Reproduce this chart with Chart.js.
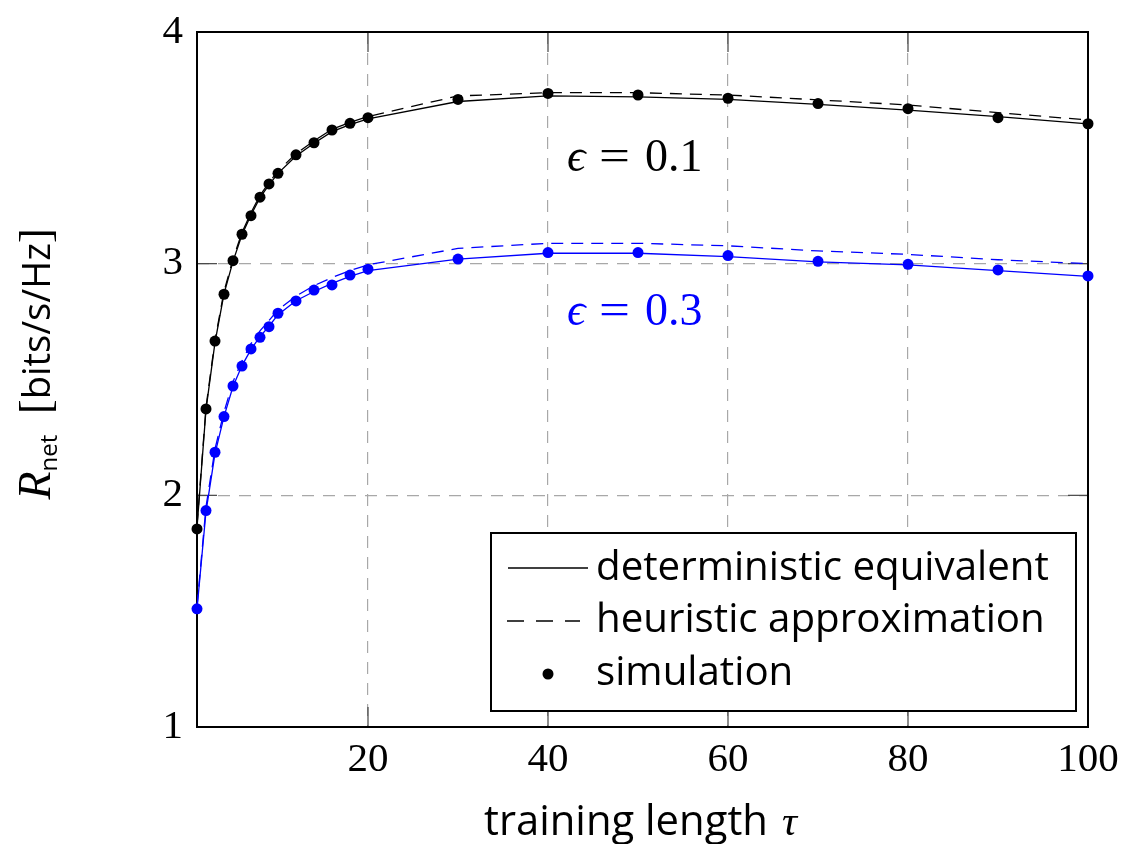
<!DOCTYPE html>
<html>
<head>
<meta charset="utf-8">
<script src="https://cdn.jsdelivr.net/npm/chart.js@4.4.1/dist/chart.umd.min.js"></script>
<style>
  html, body { margin: 0; padding: 0; background: #fff; }
  #c { display: block; }
</style>
</head>
<body>
<canvas id="c" width="1125" height="844"></canvas>
<script>
// training length tau
var tau = [1, 2, 3, 4, 5, 6, 7, 8, 9, 10, 12, 14, 16, 18, 20, 30, 40, 50, 60, 70, 80, 90, 100];

// eps = 0.1
var detEps1  = [1.86, 2.37, 2.66, 2.87, 3.01, 3.125, 3.21, 3.285, 3.34, 3.39, 3.465, 3.52, 3.57, 3.60, 3.625, 3.70, 3.724, 3.72, 3.709, 3.688, 3.663, 3.635, 3.603];
var heurEps1 = [1.87, 2.38, 2.67, 2.88, 3.02, 3.135, 3.22, 3.295, 3.35, 3.40, 3.475, 3.53, 3.58, 3.61, 3.635, 3.724, 3.738, 3.738, 3.728, 3.707, 3.685, 3.652, 3.62];
var simEps1  = [1.855, 2.373, 2.666, 2.868, 3.013, 3.127, 3.207, 3.287, 3.344, 3.39, 3.47, 3.522, 3.577, 3.606, 3.63, 3.709, 3.735, 3.728, 3.714, 3.691, 3.669, 3.63, 3.604];

// eps = 0.3
var detEps3  = [1.51, 1.93, 2.18, 2.34, 2.47, 2.56, 2.63, 2.685, 2.73, 2.78, 2.84, 2.88, 2.915, 2.945, 2.97, 3.02, 3.045, 3.045, 3.03, 3.008, 2.995, 2.97, 2.945];
var heurEps3 = [1.52, 1.95, 2.20, 2.36, 2.49, 2.58, 2.655, 2.71, 2.755, 2.80, 2.86, 2.905, 2.94, 2.97, 2.995, 3.066, 3.088, 3.088, 3.077, 3.055, 3.04, 3.017, 3.0];
var simEps3  = [1.51, 1.934, 2.186, 2.34, 2.472, 2.558, 2.632, 2.682, 2.728, 2.786, 2.839, 2.886, 2.908, 2.951, 2.976, 3.02, 3.048, 3.048, 3.035, 3.01, 2.997, 2.973, 2.947];

var xTicks = [20, 40, 60, 80, 100];
var yTicks = [1, 2, 3, 4];
var legendLabels = ['deterministic equivalent', 'heuristic approximation', 'simulation'];

var BLUE = '#0000ff';
var SERIF = '"Liberation Serif", "DejaVu Serif", serif';
var SANS = '"Open Sans", "DejaVu Sans", sans-serif';

function pts(ys) {
  return tau.map(function(t, i) { return {x: t, y: ys[i]}; });
}

function lineSet(ys, color, dashed) {
  return {
    data: pts(ys), borderColor: color, borderWidth: 1.3,
    borderDash: dashed ? [12, 8] : [], pointRadius: 0, tension: 0, clip: false
  };
}

function dotSet(ys, color) {
  return {
    data: pts(ys), showLine: false, pointRadius: 5.5, pointBackgroundColor: color,
    pointBorderColor: color, pointBorderWidth: 0, clip: false
  };
}

// font size that makes text span the given width
function fitSize(ctx, family, style, text, width) {
  ctx.font = style + ' 100px ' + family;
  return 100 * width / ctx.measureText(text).width;
}

function seg(ctx, x1, y1, x2, y2) {
  ctx.beginPath(); ctx.moveTo(x1, y1); ctx.lineTo(x2, y2); ctx.stroke();
}

// frame and inward tick marks
var framePlugin = {
  id: 'frame',
  beforeDatasetsDraw: function(chart) {
    var ctx = chart.ctx, a = chart.chartArea, sx = chart.scales.x, sy = chart.scales.y;
    ctx.save();
    ctx.strokeStyle = '#444';
    ctx.lineWidth = 1.2;
    xTicks.forEach(function(v) {
      var px = sx.getPixelForValue(v);
      seg(ctx, px, a.bottom, px, a.bottom - 20);
      seg(ctx, px, a.top, px, a.top + 20);
    });
    yTicks.forEach(function(v) {
      var py = sy.getPixelForValue(v);
      seg(ctx, a.left, py, a.left + 20, py);
      seg(ctx, a.right, py, a.right - 20, py);
    });
    ctx.strokeStyle = '#000';
    ctx.lineWidth = 2;
    ctx.strokeRect(a.left, a.top, a.width, a.height);
    ctx.restore();
  }
};

// axis titles, curve labels and legend
var textPlugin = {
  id: 'texts',
  afterDraw: function(chart) {
    var ctx = chart.ctx, a = chart.chartArea, sx = chart.scales.x, sy = chart.scales.y;
    ctx.save();
    ctx.textBaseline = 'alphabetic';
    ctx.textAlign = 'left';

    // curve labels: epsilon, equals sign, value
    [['0.1', 3.4, '#000'], ['0.3', 2.735, BLUE]].forEach(function(l) {
      var x0 = sx.getPixelForValue(42.1), y0 = sy.getPixelForValue(l[1]);
      ctx.fillStyle = l[2];
      ctx.font = 'italic 46px ' + SERIF;
      ctx.fillText('\u03f5', x0, y0);
      var eq = fitSize(ctx, SERIF, '', '=', 31);
      ctx.font = eq + 'px ' + SERIF;
      ctx.save();
      ctx.translate(x0 + 32, y0);
      ctx.scale(1, 46 / eq);
      ctx.fillText('=', 0, 0);
      ctx.restore();
      ctx.font = '46px ' + SERIF;
      ctx.fillText(l[0], x0 + 78, y0);
    });

    // x title
    ctx.fillStyle = '#000';
    var fs = fitSize(ctx, SANS, '', 'training length', 284);
    ctx.font = fs + 'px ' + SANS;
    ctx.fillText('training length', 484, 835);
    ctx.font = 'italic 42px ' + SERIF;
    ctx.fillText('\u03c4', 782, 835);

    // y title
    ctx.translate(50, 364);
    ctx.rotate(-Math.PI / 2);
    var parts = [
      ['R', 'italic 46px ' + SERIF, 0],
      ['net', '24px ' + SANS, 7],
      ['  ', '40px ' + SANS, 0],
      ['[', '44px ' + SERIF, 0],
      ['bits/s/Hz', '38px ' + SANS, 0],
      [']', '44px ' + SERIF, 0]
    ];
    var total = 0;
    parts.forEach(function(p) { ctx.font = p[1]; total += ctx.measureText(p[0]).width; });
    var cx = -total / 2;
    parts.forEach(function(p) {
      ctx.font = p[1];
      ctx.fillText(p[0], cx, p[2]);
      cx += ctx.measureText(p[0]).width;
    });
    ctx.setTransform(1, 0, 0, 1, 0, 0);

    // legend
    var bx = 491, by = 533, bw = 585, bh = 178;
    ctx.fillStyle = '#fff';
    ctx.fillRect(bx, by, bw, bh);
    ctx.strokeStyle = '#000';
    ctx.lineWidth = 2;
    ctx.strokeRect(bx, by, bw, bh);

    ctx.lineWidth = 1.5;
    seg(ctx, 508, 568, 588, 568);
    ctx.setLineDash([17, 12]);
    seg(ctx, 507, 621, 580, 621);
    ctx.setLineDash([]);
    ctx.fillStyle = '#000';
    ctx.beginPath(); ctx.arc(548, 674, 5.5, 0, Math.PI * 2); ctx.fill();

    var ls = fitSize(ctx, SANS, '', legendLabels[0], 453);
    ctx.font = ls + 'px ' + SANS;
    ctx.fillText(legendLabels[0], 596, 580);
    ctx.fillText(legendLabels[1], 596, 632);
    ctx.fillText(legendLabels[2], 596, 685);
    ctx.restore();
  }
};

new Chart(document.getElementById('c'), {
  type: 'line',
  data: {
    datasets: [
      lineSet(detEps1, '#000', false),
      lineSet(heurEps1, '#000', true),
      dotSet(simEps1, '#000'),
      lineSet(detEps3, BLUE, false),
      lineSet(heurEps3, BLUE, true),
      dotSet(simEps3, BLUE)
    ]
  },
  options: {
    responsive: false,
    animation: false,
    devicePixelRatio: 1,
    layout: { padding: { top: 32, right: 37, left: 0, bottom: 0 } },
    plugins: { legend: { display: false }, tooltip: { enabled: false } },
    scales: {
      x: {
        type: 'linear', min: 1, max: 100,
        afterBuildTicks: function(s) { s.ticks = xTicks.map(function(v) { return {value: v}; }); },
        afterFit: function(s) { s.height = 117; s.paddingLeft = 0; s.paddingRight = 0; },
        ticks: { color: '#000', padding: 9, font: { family: SERIF, size: 41 }, maxRotation: 0 },
        grid: {
          drawTicks: false, lineWidth: 1.2,
          color: function(c) { return c.tick && (c.tick.value === 100) ? 'rgba(0,0,0,0)' : '#a8a8a8'; }
        },
        border: { display: false, dash: [12, 9] }
      },
      y: {
        type: 'linear', min: 1, max: 4,
        afterBuildTicks: function(s) { s.ticks = yTicks.map(function(v) { return {value: v}; }); },
        afterFit: function(s) { s.width = 197; s.paddingTop = 0; s.paddingBottom = 0; },
        ticks: { color: '#000', padding: 14, font: { family: SERIF, size: 41 } },
        grid: {
          drawTicks: false, lineWidth: 1.2,
          color: function(c) { return c.tick && (c.tick.value === 1 || c.tick.value === 4) ? 'rgba(0,0,0,0)' : '#a8a8a8'; }
        },
        border: { display: false, dash: [12, 9] }
      }
    }
  },
  plugins: [framePlugin, textPlugin]
});
</script>
</body>
</html>
